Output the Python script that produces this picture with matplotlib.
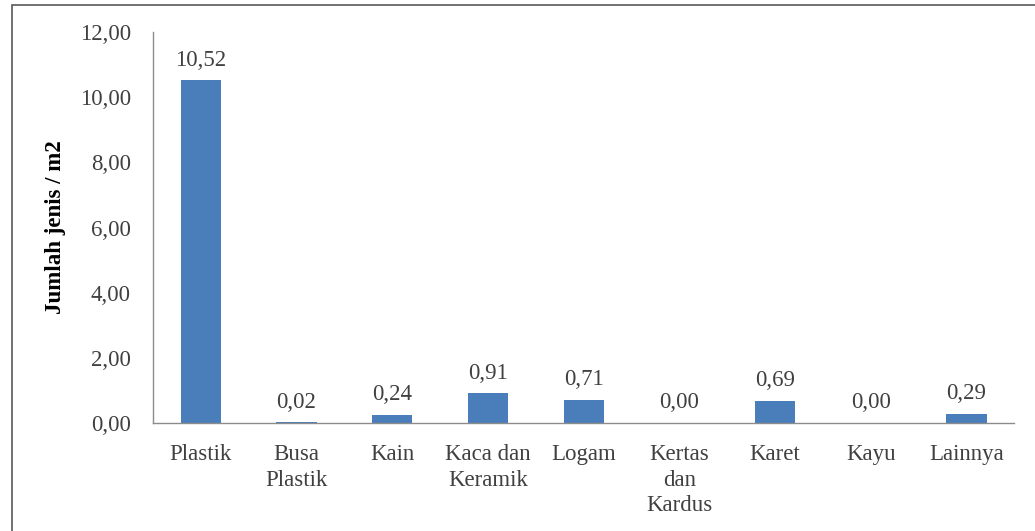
import numpy as np
import matplotlib.pyplot as plt
from matplotlib.patches import Rectangle
from matplotlib.ticker import FuncFormatter

categories = ['Plastik', 'Busa\nPlastik', 'Kain', 'Kaca dan\nKeramik', 'Logam',
              'Kertas\ndan\nKardus', 'Karet', 'Kayu', 'Lainnya']
values = [10.52, 0.02, 0.24, 0.91, 0.71, 0.00, 0.69, 0.00, 0.29]
yticks = [0, 2, 4, 6, 8, 10, 12]

plt.rcParams['font.family'] = ['Liberation Serif', 'DejaVu Serif']
text_color = '#404040'
fs = 16.5

fig = plt.figure(figsize=(10.35, 5.31), dpi=100)
ax = fig.add_axes([0.1478, 0.2034, 0.8322, 0.7363])

x = np.arange(len(categories))
bars = ax.bar(x, values, width=0.42, color='#4A7EBB')

for xi, v in zip(x, values):
    ax.annotate(f'{v:.2f}'.replace('.', ','), (xi, v), xytext=(0, 7),
                textcoords='offset points', ha='center', va='bottom',
                fontsize=fs, color=text_color)

ax.set_xlim(-0.5, len(categories) - 0.5)
ax.set_ylim(0, 12)
ax.set_yticks(yticks)
ax.yaxis.set_major_formatter(FuncFormatter(lambda v, p: f'{v:.2f}'.replace('.', ',')))
ax.set_xticks(x)
ax.set_xticklabels(categories, linespacing=1.3)
ax.tick_params(axis='both', length=0, labelsize=fs, labelcolor=text_color)
ax.tick_params(axis='y', pad=16)
ax.tick_params(axis='x', pad=15)
for s in ['top', 'right']:
    ax.spines[s].set_visible(False)
for s in ['left', 'bottom']:
    ax.spines[s].set_color('#8C8C8C')
    ax.spines[s].set_linewidth(1.0)

ax.set_ylabel('Jumlah jenis / m2', fontsize=fs, fontweight='bold', color='black', labelpad=10)

# outer frame (left and top edges visible)
fig.patches.append(Rectangle((12 / 1035, -0.2), 1.2, 1.2 - 5 / 531,
                             transform=fig.transFigure, fill=False,
                             edgecolor='#595959', linewidth=1.2))

plt.savefig('out.png', dpi=100)
